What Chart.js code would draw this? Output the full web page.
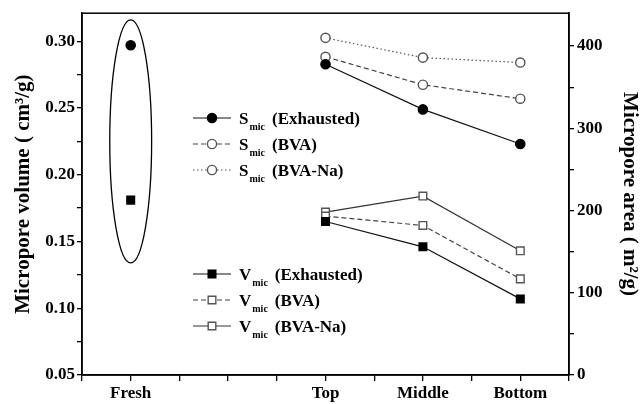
<!DOCTYPE html>
<html>
<head>
<meta charset="utf-8">
<script src="https://cdn.jsdelivr.net/npm/chart.js@4/dist/chart.umd.min.js"></script>
<style>
  html, body { margin: 0; padding: 0; background: #fff; }
</style>
</head>
<body>
<canvas id="myChart" width="643" height="404"></canvas>
<script>
// categories along the bottom (second slot is an empty gap)
const categories = ["Fresh", "", "Top", "Middle", "Bottom"];

// micropore area, m2/g (right axis)
const sExhausted = [401, null, 378, 323, 281];
const sBVA = [null, null, 387, 353, 336];
const sBVANa = [null, null, 410, 386, 380];

// micropore volume, cm3/g (left axis)
const vExhausted = [0.181, null, 0.165, 0.146, 0.107];
const vBVA = [null, null, 0.169, 0.162, 0.122];
const vBVANa = [null, null, 0.172, 0.184, 0.143];

const legendNames = ["(Exhausted)", "(BVA)", "(BVA-Na)"];

const FONT = '"Liberation Serif", "Times New Roman", serif';

function toPoints(values) {
  return values.map((v, i) => ({ x: i + 1, y: v }));
}

function series(label, values, axis, style) {
  return Object.assign(
    {
      label: label,
      data: toPoints(values),
      yAxisID: axis,
      borderWidth: 1.2,
      pointBorderWidth: 1.4,
      tension: 0,
      spanGaps: false,
    },
    style
  );
}

const filledCircle = { pointStyle: "circle", pointRadius: 4.6, pointBackgroundColor: "#000", pointBorderColor: "#000", borderColor: "#111" };
const openCircle = { pointStyle: "circle", pointRadius: 4.6, pointBackgroundColor: "#fff", pointBorderColor: "#555" };
const filledSquare = { pointStyle: "rect", pointRadius: 5.4, pointBackgroundColor: "#000", pointBorderColor: "#000", borderColor: "#111" };
const openSquare = { pointStyle: "rect", pointRadius: 5.4, pointBackgroundColor: "#fff", pointBorderColor: "#555" };

const datasets = [
  series("S Exhausted", sExhausted, "yArea", filledCircle),
  series("S BVA", sBVA, "yArea", Object.assign({ borderColor: "#444", borderDash: [5, 3] }, openCircle)),
  series("S BVA-Na", sBVANa, "yArea", Object.assign({ borderColor: "#555", borderDash: [1.5, 2.5] }, openCircle)),
  series("V Exhausted", vExhausted, "yVol", filledSquare),
  series("V BVA", vBVA, "yVol", Object.assign({ borderColor: "#444", borderDash: [5, 3] }, openSquare)),
  series("V BVA-Na", vBVANa, "yVol", Object.assign({ borderColor: "#333" }, openSquare)),
];

function drawLegendRow(ctx, ds, x, y, letter, tail) {
  ctx.save();
  ctx.strokeStyle = ds.borderColor;
  ctx.lineWidth = ds.borderWidth;
  ctx.setLineDash(ds.borderDash || []);
  ctx.beginPath();
  ctx.moveTo(x - 19, y);
  ctx.lineTo(x + 19, y);
  ctx.stroke();
  ctx.setLineDash([]);

  ctx.fillStyle = ds.pointBackgroundColor;
  ctx.strokeStyle = ds.pointBorderColor;
  ctx.lineWidth = ds.pointBorderWidth;
  ctx.beginPath();
  if (ds.pointStyle === "rect") {
    const s = ds.pointRadius * Math.SQRT1_2;
    ctx.rect(x - s, y - s, 2 * s, 2 * s);
  } else {
    ctx.arc(x, y, ds.pointRadius, 0, Math.PI * 2);
  }
  ctx.fill();
  ctx.stroke();

  ctx.fillStyle = "#000";
  ctx.textBaseline = "alphabetic";
  ctx.textAlign = "left";
  let tx = x + 27;
  ctx.font = "bold 17px " + FONT;
  ctx.fillText(letter, tx, y + 6);
  tx += ctx.measureText(letter).width + 1;
  ctx.font = "bold 10px " + FONT;
  ctx.fillText("mic", tx, y + 12);
  tx += ctx.measureText("mic").width + 7;
  ctx.font = "bold 17px " + FONT;
  ctx.fillText(tail, tx, y + 6);
  ctx.restore();
}

const framePlugin = {
  id: "frame",
  beforeDatasetsDraw(chart) {
    const { ctx, chartArea: a, scales } = chart;
    ctx.save();
    ctx.strokeStyle = "#000";
    ctx.lineWidth = 1.5;
    ctx.strokeRect(a.left, a.top, a.right - a.left, a.bottom - a.top);

    // ellipse round the fresh carbon points
    const cx = scales.x.getPixelForValue(1);
    const rx = scales.x.getPixelForValue(1.215) - cx;
    const top = scales.yVol.getPixelForValue(0.316);
    const bot = scales.yVol.getPixelForValue(0.134);
    ctx.lineWidth = 1.3;
    ctx.beginPath();
    ctx.ellipse(cx, (top + bot) / 2, rx, (bot - top) / 2, 0, 0, Math.PI * 2);
    ctx.stroke();
    ctx.restore();
  },
  afterDatasetsDraw(chart) {
    const ctx = chart.ctx;
    const ds = chart.data.datasets;
    drawLegendRow(ctx, ds[0], 212, 118, "S", legendNames[0]);
    drawLegendRow(ctx, ds[1], 212, 144, "S", legendNames[1]);
    drawLegendRow(ctx, ds[2], 212, 170, "S", legendNames[2]);
    drawLegendRow(ctx, ds[3], 212, 274, "V", legendNames[0]);
    drawLegendRow(ctx, ds[4], 212, 300, "V", legendNames[1]);
    drawLegendRow(ctx, ds[5], 212, 326, "V", legendNames[2]);
  },
};

const tickFont = { family: FONT, size: 17, weight: "bold" };
const titleFont = { family: FONT, size: 21, weight: "bold" };

new Chart(document.getElementById("myChart"), {
  type: "line",
  data: { datasets: datasets },
  options: {
    responsive: false,
    animation: false,
    layout: { padding: { top: 13, left: 0, right: 0, bottom: 0 } },
    plugins: { legend: { display: false }, tooltip: { enabled: false } },
    scales: {
      x: {
        type: "linear",
        min: 0.5,
        max: 5.5,
        ticks: {
          stepSize: 0.5,
          autoSkip: false,
          maxRotation: 0,
          includeBounds: false,
          padding: 2,
          color: "#000",
          font: tickFont,
          callback: (v) => (Number.isInteger(v) ? categories[v - 1] : ""),
        },
        grid: { drawOnChartArea: false, tickLength: 6, color: "#000", lineWidth: 1.3 },
        border: { color: "#000", width: 1.5 },
        afterFit: (scale) => { scale.height = 29; },
      },
      yVol: {
        type: "linear",
        position: "left",
        min: 0.05,
        max: 0.321,
        ticks: {
          stepSize: 0.025,
          includeBounds: false,
          padding: 2,
          color: "#000",
          font: tickFont,
          callback: (v) => (Math.round(v * 1000) % 50 === 0 ? v.toFixed(2) : ""),
        },
        grid: { drawOnChartArea: false, tickLength: 5, color: "#000", lineWidth: 1.3 },
        border: { color: "#000", width: 1.5 },
        title: {
          display: true,
          text: "Micropore volume ( cm\u00b3/g)",
          color: "#000",
          font: titleFont,
          padding: { top: 11, bottom: 0 },
        },
        afterFit: (scale) => { scale.width = 82; },
      },
      yArea: {
        type: "linear",
        position: "right",
        min: 0,
        max: 440,
        ticks: {
          stepSize: 50,
          includeBounds: false,
          padding: 3,
          color: "#000",
          font: tickFont,
          callback: (v) => (v % 100 === 0 ? String(v) : ""),
        },
        grid: { drawOnChartArea: false, tickLength: 5, color: "#000", lineWidth: 1.3 },
        border: { color: "#000", width: 1.5 },
        title: {
          display: true,
          text: "Micropore area ( m\u00b2/g)",
          color: "#000",
          font: titleFont,
          padding: { top: 1, bottom: 0 },
        },
        afterFit: (scale) => { scale.width = 74; },
      },
    },
  },
  plugins: [framePlugin],
});
</script>
</body>
</html>
